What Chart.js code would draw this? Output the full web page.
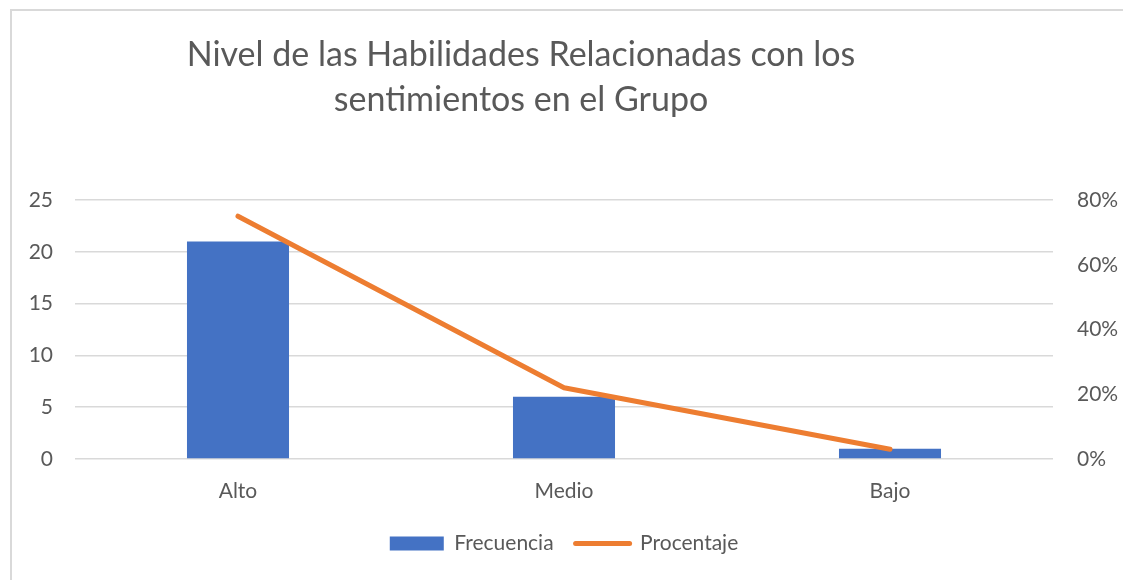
<!DOCTYPE html>
<html>
<head>
<meta charset="utf-8">
<script src="https://cdn.jsdelivr.net/npm/chart.js@4.4.1/dist/chart.umd.min.js"></script>
<style>
  html, body { margin: 0; padding: 0; background: #ffffff; overflow: hidden; }
  #frame { position: absolute; left: 10px; top: 9px; width: 2000px; height: 2000px; border: 2px solid #d9d9d9; }
  #wrap { position: absolute; left: 0; top: 0; width: 1123px; height: 580px; }
</style>
</head>
<body>
<div id="frame"></div>
<div id="wrap"><canvas id="c" width="1123" height="580"></canvas></div>
<script>
const titleLines = ['Nivel de las Habilidades Relacionadas con los', 'sentimientos en el Grupo'];
const categories = ['Alto', 'Medio', 'Bajo'];
const frecuencia = [21, 6, 1];
const porcentaje = [75, 22, 3];
const leftTicks = [0, 5, 10, 15, 20, 25];
const rightTicks = [0, 20, 40, 60, 80];

const FONT = 'Lato, "Open Sans", sans-serif';
const TEXT = '#595959';

const titlePlugin = {
  id: 'twoLineTitle',
  afterDraw(chart) {
    const ctx = chart.ctx;
    ctx.save();
    ctx.fillStyle = TEXT;
    ctx.font = '34px ' + FONT;
    ctx.textAlign = 'center';
    ctx.textBaseline = 'alphabetic';
    ctx.fillText(titleLines[0], 521, 66);
    ctx.fillText(titleLines[1], 521, 111);
    ctx.restore();
  }
};

new Chart(document.getElementById('c'), {
  data: {
    labels: categories,
    datasets: [
      {
        type: 'line',
        label: 'Procentaje',
        data: porcentaje,
        yAxisID: 'y2',
        borderColor: '#ED7D31',
        backgroundColor: '#ED7D31',
        borderWidth: 5,
        borderCapStyle: 'round',
        borderJoinStyle: 'round',
        pointRadius: 0,
        pointHoverRadius: 0,
        tension: 0,
        order: 0
      },
      {
        type: 'bar',
        label: 'Frecuencia',
        data: frecuencia,
        yAxisID: 'y',
        backgroundColor: '#4472C4',
        borderWidth: 0,
        barPercentage: 1,
        categoryPercentage: 0.313,
        order: 1
      }
    ]
  },
  options: {
    responsive: false,
    animation: false,
    layout: { padding: { top: 200, left: 0, right: 0, bottom: 16 } },
    plugins: {
      title: { display: false },
      tooltip: { enabled: false },
      legend: {
        position: 'bottom',
        fullSize: false,
        reverse: true,
        labels: {
          font: { family: FONT, size: 21 },
          color: TEXT,
          usePointStyle: true,
          pointStyleWidth: 54,
          boxHeight: 14,
          padding: 22,
          generateLabels(chart) {
            const items = Chart.defaults.plugins.legend.labels.generateLabels(chart);
            items.forEach(it => {
              if (it.text === 'Procentaje') {
                it.pointStyle = 'line';
                it.strokeStyle = '#ED7D31';
                it.fillStyle = '#ED7D31';
                it.lineWidth = 5;
                it.lineCap = 'round';
              } else {
                it.pointStyle = 'rect';
                it.fillStyle = '#4472C4';
                it.lineWidth = 0;
              }
            });
            return items;
          }
        }
      }
    },
    scales: {
      x: {
        grid: { display: false, drawTicks: false },
        border: { display: false },
        ticks: { font: { family: FONT, size: 21 }, color: TEXT, padding: 20 },
        afterFit(s) { s.height = 52; }
      },
      y: {
        position: 'left',
        min: 0, max: 25,
        afterBuildTicks(s) { s.ticks = leftTicks.map(v => ({ value: v })); },
        grid: { color: '#d9d9d9', lineWidth: 1.5, drawTicks: false },
        border: { display: false },
        ticks: { font: { family: FONT, size: 21 }, color: TEXT, padding: 22 },
        afterFit(s) { s.width = 75; }
      },
      y2: {
        position: 'right',
        min: 0, max: 80,
        afterBuildTicks(s) { s.ticks = rightTicks.map(v => ({ value: v })); },
        grid: { display: false, drawTicks: false },
        border: { display: false },
        ticks: { font: { family: FONT, size: 21 }, color: TEXT, padding: 24, callback: v => v + '%' },
        afterFit(s) { s.width = 70; }
      }
    }
  },
  plugins: [titlePlugin]
});
</script>
</body>
</html>
